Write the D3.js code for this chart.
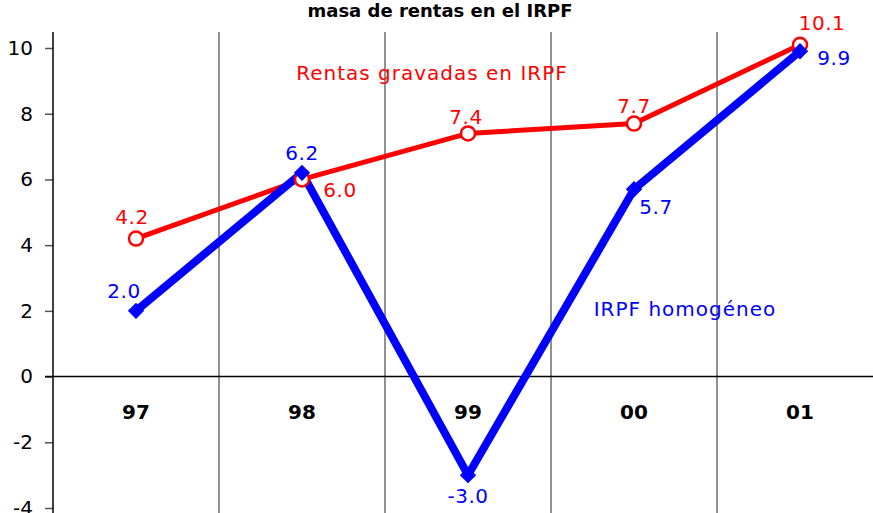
<!DOCTYPE html>
<html><head><meta charset="utf-8">
<script src="https://cdn.jsdelivr.net/npm/d3@7"></script>
<style>body{margin:0;background:#fff;}svg{display:block;}</style>
</head><body>
<svg id="c" width="873" height="513"></svg>
<script>
const categories = ["97","98","99","00","01"];
const rentasGravadas = [4.2, 6.0, 7.4, 7.7, 10.1];
const irpfHomogeneo = [2.0, 6.2, -3.0, 5.7, 9.9];
const yTicks = [-4,-2,0,2,4,6,8,10];
const title = "masa de rentas en el IRPF";
const redName = "Rentas gravadas en IRPF";
const blueName = "IRPF homogéneo";

const svg = d3.select("#c");
const W = 873, H = 513;
const plotLeft = 53, plotRight = 883, plotTop = 32;
const x = d3.scaleBand().domain(categories).range([plotLeft, plotRight]);
const y = d3.scaleLinear().domain([-4, 10]).range([508, 48]);
const cx = d => x(d) + x.bandwidth()/2;
const lf = "'DejaVu Sans', Verdana, sans-serif";

// title
svg.append("text").attr("x", 440).attr("y", 17).attr("text-anchor","middle")
  .attr("font-family",lf).attr("font-weight","bold").attr("font-size",18)
  .text(title);

// vertical separators
categories.slice(1).forEach(c => {
  svg.append("line").attr("x1", x(c)).attr("x2", x(c)).attr("y1", plotTop).attr("y2", H)
    .attr("stroke","#222").attr("stroke-width",1);
});

// y axis
const yAxis = d3.axisLeft(y).tickValues(yTicks).tickSize(8).tickPadding(12).tickFormat(d => String(d));
const ga = svg.append("g").attr("transform", `translate(${plotLeft},0)`).call(yAxis);
ga.select(".domain").remove();
ga.selectAll(".tick line").attr("stroke","#555").attr("stroke-width",1.5);
ga.selectAll(".tick text").attr("font-family",lf).attr("font-size",20).attr("fill","#000");
svg.append("line").attr("x1", plotLeft).attr("x2", plotLeft).attr("y1", plotTop).attr("y2", H).attr("stroke","#000").attr("stroke-width",1.5);

// zero line
svg.append("line").attr("x1", plotLeft-8).attr("x2", W).attr("y1", y(0)).attr("y2", y(0)).attr("stroke","#000").attr("stroke-width",1.5);

// category labels
svg.append("g").selectAll("text").data(categories).join("text")
  .attr("x", d => cx(d)).attr("y", 419).attr("text-anchor","middle")
  .attr("font-family",lf).attr("font-weight","bold").attr("font-size",20)
  .text(d => d);

const line = d3.line().x((d,i) => cx(categories[i])).y(d => y(d));

// red series
svg.append("path").datum(rentasGravadas).attr("d", line).attr("fill","none")
  .attr("stroke","#ff0000").attr("stroke-width",5).attr("stroke-linejoin","miter");
// blue series
svg.append("path").datum(irpfHomogeneo).attr("d", line).attr("fill","none")
  .attr("stroke","#0000ff").attr("stroke-width",8).attr("stroke-linejoin","miter");

// red markers
svg.append("g").selectAll("circle").data(rentasGravadas).join("circle")
  .attr("cx", (d,i) => cx(categories[i])).attr("cy", d => y(d)).attr("r", 7)
  .attr("fill","#fff").attr("stroke","#ff0000").attr("stroke-width",2.5);
// blue markers
svg.append("g").selectAll("path").data(irpfHomogeneo).join("path")
  .attr("transform", (d,i) => `translate(${cx(categories[i])},${y(d)})`)
  .attr("d", d3.symbol(d3.symbolDiamond2, 170)).attr("fill","#0000ff");

// value labels
const redOff = [[-4,-15],[38,18],[-2,-9],[0,-11],[22,-15]];
const blueOff = [[-12,-13],[0,-13],[0,28],[22,25],[34,14]];
const fmt = d => d.toFixed(1);
svg.append("g").selectAll("text").data(rentasGravadas).join("text")
  .attr("x", (d,i) => cx(categories[i]) + redOff[i][0]).attr("y", (d,i) => y(d) + redOff[i][1])
  .attr("text-anchor","middle").attr("font-family",lf).attr("font-size",20).attr("letter-spacing",0.5).attr("fill","#ff0000")
  .text(fmt);
svg.append("g").selectAll("text").data(irpfHomogeneo).join("text")
  .attr("x", (d,i) => cx(categories[i]) + blueOff[i][0]).attr("y", (d,i) => y(d) + blueOff[i][1])
  .attr("text-anchor","middle").attr("font-family",lf).attr("font-size",20).attr("letter-spacing",0.5).attr("fill","#0000ff")
  .text(fmt);

// series names
svg.append("text").attr("x", 432).attr("y", 80).attr("text-anchor","middle")
  .attr("font-family",lf).attr("font-size",20).attr("letter-spacing",1).attr("fill","#ff0000").text(redName);
svg.append("text").attr("x", 685).attr("y", 316).attr("text-anchor","middle")
  .attr("font-family",lf).attr("font-size",20).attr("letter-spacing",1).attr("fill","#0000ff").text(blueName);
</script>
</body></html>
